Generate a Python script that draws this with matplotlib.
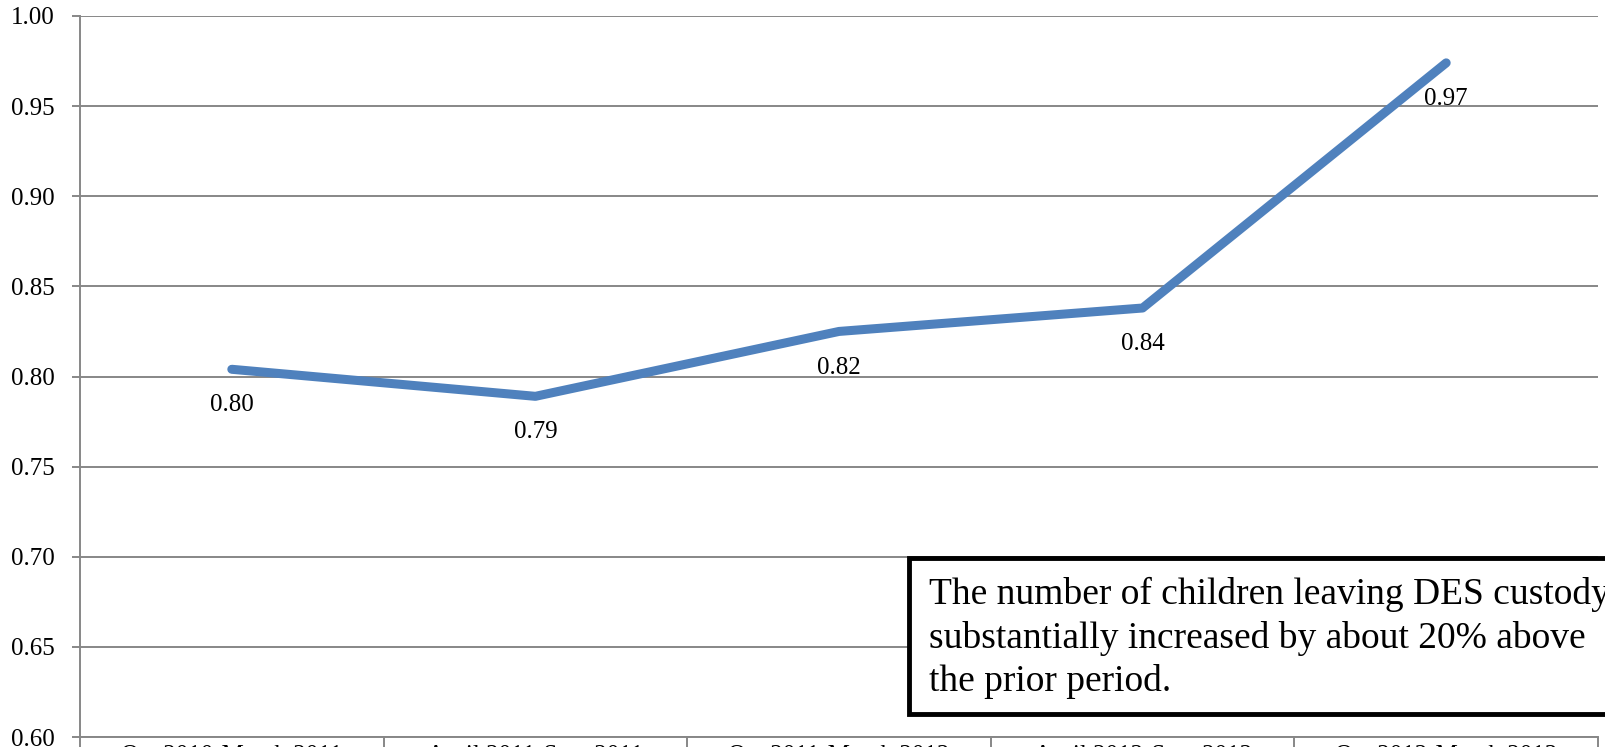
import matplotlib
matplotlib.use('Agg')
import matplotlib.pyplot as plt
from matplotlib.patches import Rectangle

plt.rcParams['font.family'] = ['Liberation Serif', 'DejaVu Serif']

periods = ['Oct 2010-March 2011', 'April 2011-Sept 2011', 'Oct 2011-March 2012',
           'April 2012-Sept 2012', 'Oct 2012-March 2013']
ratio = [0.804, 0.789, 0.825, 0.838, 0.974]
labels = ['0.80', '0.79', '0.82', '0.84', '0.97']
note = ('The number of children leaving DES custody\n'
        'substantially increased by about 20% above\n'
        'the prior period.')

grey = '#878787'

fig = plt.figure(figsize=(16.05, 7.47), dpi=100)
ax = fig.add_axes([80 / 1605, 10 / 747, 1518 / 1605, 721 / 747])

x = list(range(len(periods)))
ax.plot(x, ratio, color='#4F81BD', lw=6.5, solid_capstyle='round', solid_joinstyle='round', zorder=3)
for xi, yi, t in zip(x, ratio, labels):
    ax.annotate(t, (xi, yi), xytext=(0, -26), textcoords='offset points',
                ha='center', va='center', fontsize=18)

ax.set_xlim(-0.5, len(periods) - 0.5)
ax.set_ylim(0.60, 1.00)
ax.set_yticks([0.60 + 0.05 * i for i in range(9)])
ax.set_yticklabels(['%.2f' % (0.60 + 0.05 * i) for i in range(9)])
ax.yaxis.grid(True, color=grey, lw=1.4)
ax.set_axisbelow(True)

ax.set_xticks(x)
ax.set_xticklabels(periods)
ax.set_xticks([i - 0.5 for i in range(len(periods) + 1)], minor=True)
ax.tick_params(axis='x', which='major', length=0, pad=6, labelsize=18)
ax.tick_params(axis='x', which='minor', length=14, width=1.4, color=grey)
ax.tick_params(axis='y', length=6, width=1.4, color=grey, pad=12, labelsize=18)

for s in ['top', 'right']:
    ax.spines[s].set_visible(False)
for s in ['left', 'bottom']:
    ax.spines[s].set_color(grey)
    ax.spines[s].set_linewidth(1.4)

box = Rectangle((909 / 1605, (747 - 714) / 747), 720 / 1605, 156 / 747,
                transform=fig.transFigure, fc='white', ec='black', lw=3.5, zorder=5)
fig.patches.append(box)
fig.text(929 / 1605, 1 - 638 / 747, note, fontsize=27, ha='left', va='center',
         linespacing=1.32, zorder=6)

fig.savefig('out.png', dpi=100)
